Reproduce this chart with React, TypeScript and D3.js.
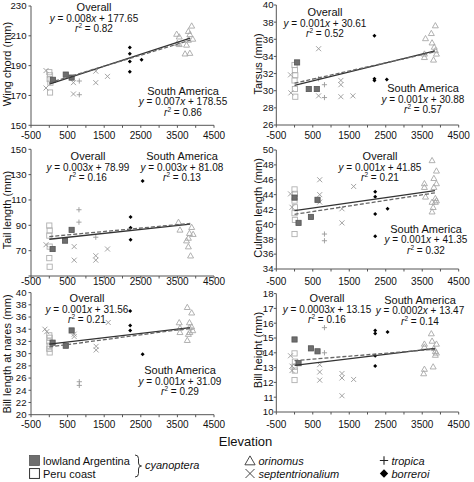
import React from 'react';
import * as d3 from 'd3';

type G = 'LA' | 'PC' | 'OR' | 'SE' | 'TR' | 'BO';
type Pt = [G, number, number];

const elevationLabels = [-500, 500, 1500, 2500, 3500, 4500];
const elevationTicks = [-500, 0, 500, 1000, 1500, 2000, 2500, 3000, 3500, 4000, 4500];

const wingPoints: Pt[] = [
  ['PC', 0, 185.6], ['PC', 20, 183.5], ['PC', 10, 181], ['PC', 30, 178.6], ['PC', 20, 172],
  ['LA', 100, 180.5], ['LA', 450, 184], ['LA', 610, 182],
  ['SE', -90, 186.7], ['SE', -90, 175], ['SE', 660, 178.6], ['SE', 660, 171], ['SE', 1270, 186.3], ['SE', 1270, 178.6], ['SE', 1590, 182.8],
  ['TR', 820, 179.7], ['TR', 820, 170.5],
  ['BO', 2200, 202.1], ['BO', 2200, 197.9], ['BO', 2200, 192.7], ['BO', 2200, 185.9], ['BO', 2520, 194],
  ['OR', 3890, 216.7], ['OR', 3800, 213.1], ['OR', 3840, 211], ['OR', 3480, 211.2], ['OR', 3550, 209.4], ['OR', 3800, 207.2],
  ['OR', 3550, 204.3], ['OR', 3750, 203.9], ['OR', 3710, 198], ['OR', 3840, 198.4], ['OR', 3920, 207.9], ['OR', 3500, 205],
];
const tarsusPoints: Pt[] = [
  ['PC', 0, 33.0], ['PC', 10, 32.4], ['PC', 20, 31.8], ['PC', 0, 31.2], ['PC', 10, 30.2], ['PC', 20, 29.3],
  ['LA', 70, 33.3], ['LA', 390, 30.2], ['LA', 610, 30.2],
  ['SE', -110, 31.85], ['SE', -100, 29.75], ['SE', 660, 34.9], ['SE', 660, 29.4], ['SE', 1270, 31.2], ['SE', 1270, 30.7], ['SE', 1270, 29.3], ['SE', 1600, 29.4],
  ['TR', 660, 31.4], ['TR', 820, 30.7], ['TR', 820, 29.2],
  ['BO', 2190, 36.4], ['BO', 2190, 31.4], ['BO', 2190, 31.2], ['BO', 2530, 31.3],
  ['OR', 3860, 37.6], ['OR', 3750, 36.7], ['OR', 3590, 36.1], ['OR', 3770, 35.6], ['OR', 3830, 35.1], ['OR', 3890, 34.3],
  ['OR', 3560, 34.3], ['OR', 3560, 33.9], ['OR', 3810, 33.6], ['OR', 3860, 34.7],
];
const tailPoints: Pt[] = [
  ['PC', 0, 89.8], ['PC', 10, 85.9], ['PC', 0, 81.9], ['PC', 10, 73.2], ['PC', 0, 64.1], ['PC', 10, 57.3],
  ['LA', 90, 71.3], ['LA', 430, 77.9], ['LA', 610, 86.4],
  ['SE', -90, 74.7], ['SE', 680, 73.2], ['SE', 680, 62.5], ['SE', 1270, 66], ['SE', 1270, 62.5], ['SE', 1590, 71.3],
  ['TR', 810, 102.3], ['TR', 810, 92.5], ['TR', 1270, 80.6],
  ['BO', 2220, 96.5], ['BO', 2220, 88], ['BO', 2220, 78.7], ['BO', 2550, 125],
  ['OR', 3530, 92.5], ['OR', 3570, 86.4], ['OR', 3800, 80], ['OR', 3890, 88.5], ['OR', 3830, 83.8],
  ['OR', 3750, 77.9], ['OR', 3800, 73.2], ['OR', 3860, 66], ['OR', 3930, 83],
];
const culmenPoints: Pt[] = [
  ['PC', 0, 44.7], ['PC', 10, 44.1], ['PC', 0, 43.2], ['PC', 10, 42.3], ['PC', 0, 41.5], ['PC', 10, 40.6], ['PC', 0, 38.7],
  ['LA', 0, 43.6], ['LA', 110, 40.2], ['LA', 450, 41], ['LA', 630, 43.3],
  ['SE', -110, 44.1], ['SE', -70, 42.3], ['SE', 690, 46], ['SE', 690, 44], ['SE', 690, 43], ['SE', 1300, 42.1], ['SE', 1300, 40.2], ['SE', 1620, 45.1],
  ['TR', 820, 38.7], ['TR', 820, 37.8],
  ['BO', 2210, 44.4], ['BO', 2210, 43.7], ['BO', 2210, 41.4], ['BO', 2210, 38.4], ['BO', 2550, 42.1],
  ['OR', 3770, 48.6], ['OR', 3890, 47.2], ['OR', 3820, 46.2], ['OR', 3890, 45.5], ['OR', 3560, 45.5], ['OR', 3560, 45],
  ['OR', 3590, 43.7], ['OR', 3820, 45], ['OR', 3860, 43.5], ['OR', 3860, 43], ['OR', 3770, 43], ['OR', 3800, 42.3],
  ['OR', 3770, 41.7], ['OR', 3890, 43.2],
];
const naresPoints: Pt[] = [
  ['PC', 0, 33], ['PC', 10, 32.6], ['PC', 0, 32], ['PC', 10, 31.3], ['PC', 0, 30.8], ['PC', 10, 30.2],
  ['LA', 90, 31.8], ['LA', 450, 31.3], ['LA', 610, 33.8],
  ['SE', -120, 34], ['SE', -70, 33.6], ['SE', 680, 33.2], ['SE', 680, 32.8], ['SE', 1280, 31.2], ['SE', 1280, 30.6], ['SE', 1610, 35.1],
  ['TR', 820, 25.4], ['TR', 820, 24.8],
  ['BO', 2210, 37], ['BO', 2210, 34.6], ['BO', 2210, 33.8], ['BO', 2550, 29.9],
  ['OR', 3770, 37.6], ['OR', 3890, 36.7], ['OR', 3550, 35.1], ['OR', 3570, 34.2], ['OR', 3570, 33.5], ['OR', 3830, 35.1],
  ['OR', 3830, 34.3], ['OR', 3770, 32.2], ['OR', 3840, 33.5], ['OR', 3890, 34.4], ['OR', 3920, 33.8], ['OR', 3800, 33.2],
];
const heightPoints: Pt[] = [
  ['PC', 0, 13.96], ['PC', 10, 13.4], ['PC', 0, 13.06], ['PC', 10, 12.8], ['PC', 0, 12.16],
  ['LA', 0, 14.9], ['LA', 110, 13.3], ['LA', 450, 14.3], ['LA', 630, 14.1],
  ['SE', -110, 13.8], ['SE', -70, 13.1], ['SE', -70, 12.8], ['SE', 690, 13.2], ['SE', 690, 12.7], ['SE', 690, 12.15],
  ['SE', 1300, 12.6], ['SE', 1300, 12.3], ['SE', 1300, 11.1], ['SE', 1620, 12.2],
  ['TR', 820, 15.7], ['TR', 820, 14],
  ['BO', 2210, 15.5], ['BO', 2210, 15.3], ['BO', 2550, 15.4], ['BO', 2210, 13.8], ['BO', 2210, 13.1],
  ['OR', 3750, 15.3], ['OR', 3770, 14.8], ['OR', 3560, 14.6], ['OR', 3560, 14.4], ['OR', 3890, 14.6], ['OR', 3860, 14.1],
  ['OR', 3820, 14.3], ['OR', 3860, 13.85], ['OR', 3800, 13.06], ['OR', 3560, 12.9], ['OR', 3540, 12.6], ['OR', 3890, 14],
];

// [slope, intercept] : overall (solid), South America (dashed)
const wingFits = [[0.008, 177.65], [0.0074, 178.55]];
const tarsusFits = [[0.00105, 30.61], [0.00095, 30.88]];
const tailFits = [[0.0031, 78.99], [0.0027, 81.08]];
const culmenFits = [[0.0007, 41.85], [0.00075, 41.35]];
const naresFits = [[0.0007, 31.56], [0.0008, 31.09]];
const heightFits = [[0.0003, 13.15], [0.0002, 13.47]];
const fitRange = [0, 3850];

// [slope label, intercept label, r2 label]
const wingEqs = [['0.008', '177.65', '0.82'], ['0.007', '178.55', '0.86']];
const tarsusEqs = [['0.001', '30.61', '0.52'], ['0.001', '30.88', '0.57']];
const tailEqs = [['0.003', '78.99', '0.16'], ['0.003', '81.08', '0.13']];
const culmenEqs = [['0.001', '41.85', '0.21'], ['0.001', '41.35', '0.32']];
const naresEqs = [['0.001', '31.56', '0.21'], ['0.001', '31.09', '0.29']];
const heightEqs = [['0.0003', '13.15', '0.16'], ['0.0002', '13.47', '0.14']];

const titles = ['Wing chord (mm)', 'Tarsus (mm)', 'Tail length (mm)', 'Culmen length (mm)', 'Bill length at nares (mm)', 'Bill height (mm)'];

const FONT = '"Liberation Sans", Arial, Helvetica, sans-serif';
const L = [31, 214];
const R = [276.3, 458.7];

const panels = [
  { title: titles[0], pts: wingPoints, fits: wingFits, eqs: wingEqs, dom: [150, 230], step: 20, skip: [] as number[], xr: L, yr: [125.3, 6], tx: 7.5, ty: 64, lab: 139, ov: [94, 11], sa: [183, 94.5] },
  { title: titles[1], pts: tarsusPoints, fits: tarsusFits, eqs: tarsusEqs, dom: [26, 40], step: 2, skip: [], xr: R, yr: [125, 5], tx: 258.5, ty: 64, lab: 139, ov: [325, 16], sa: [423, 92] },
  { title: titles[2], pts: tailPoints, fits: tailFits, eqs: tailEqs, dom: [50, 150], step: 20, skip: [50], xr: L, yr: [276, 149.3], tx: 7.5, ty: 210, lab: 284.5, ov: [88, 160], sa: [182, 160] },
  { title: titles[3], pts: culmenPoints, fits: culmenFits, eqs: culmenEqs, dom: [34, 50], step: 2, skip: [], xr: R, yr: [269, 150], tx: 258.5, ty: 208, lab: 284.5, ov: [380, 160], sa: [426, 232.5] },
  { title: titles[4], pts: naresPoints, fits: naresFits, eqs: naresEqs, dom: [20, 40], step: 2, skip: [], xr: L, yr: [414.7, 292.6], tx: 7, ty: 354, lab: 428, ov: [87, 302], sa: [180, 374] },
  { title: titles[5], pts: heightPoints, fits: heightFits, eqs: heightEqs, dom: [10, 18], step: 1, skip: [], xr: R, yr: [412, 293.6], tx: 258.5, ty: 350, lab: 428, ov: [327, 302], sa: [420, 303.5] },
];

function Marker({ g, x, y, s = 1, legend = false }: { g: G; x: number; y: number; s?: number; legend?: boolean }) {
  const light = legend ? '#333' : '#a8a8a8';
  if (g === 'LA') {
    const h = 2.6 * s;
    return <rect x={x - h} y={y - h} width={2 * h} height={2 * h} fill="#6e6e6e" stroke="#555" strokeWidth={0.8} />;
  }
  if (g === 'PC') {
    const h = 2.6 * s;
    return <rect x={x - h} y={y - h} width={2 * h} height={2 * h} fill="none" stroke={legend ? '#333' : '#b0b0b0'} strokeWidth={legend ? 1 : 0.9} />;
  }
  if (g === 'OR') {
    const h = 3 * s;
    return <path d={`M${x},${y - h}L${x + h},${y + h * 0.75}L${x - h},${y + h * 0.75}Z`} fill="none" stroke={light} strokeWidth={0.9} />;
  }
  if (g === 'SE') {
    const h = 2.5 * s;
    return <path d={`M${x - h},${y - h}L${x + h},${y + h}M${x - h},${y + h}L${x + h},${y - h}`} stroke={legend ? '#333' : '#999'} strokeWidth={0.9} />;
  }
  if (g === 'TR') {
    const h = 2.6 * s;
    return <path d={`M${x - h},${y}L${x + h},${y}M${x},${y - h}L${x},${y + h}`} stroke={legend ? '#222' : '#999'} strokeWidth={legend ? 1.1 : 0.9} />;
  }
  const h = 2 * s;
  return <path d={`M${x},${y - h}L${x + h},${y}L${x},${y + h}L${x - h},${y}Z`} fill="#000" />;
}

function EqBlock({ cx, y, name, eq }: { cx: number; y: number; name: string; eq: string[] }) {
  return (
    <g fontFamily={FONT} textAnchor="middle" fill="#111">
      <text x={cx} y={y} fontSize={11}>{name}</text>
      <text x={cx} y={y + 10.5} fontSize={10}>
        <tspan fontStyle="italic">y</tspan>{` = ${eq[0]}`}<tspan fontStyle="italic">x</tspan>{` + ${eq[1]}`}
      </text>
      <text x={cx} y={y + 21} fontSize={10}>
        <tspan fontStyle="italic">r</tspan><tspan fontSize={6.5} dy={-4}>2</tspan><tspan dy={4}>{` = ${eq[2]}`}</tspan>
      </text>
    </g>
  );
}

function Panel({ p }: { p: (typeof panels)[number] }) {
  const x = d3.scaleLinear().domain([-500, 4500]).range(p.xr);
  const y = d3.scaleLinear().domain(p.dom).range(p.yr);
  const yTicks = d3.range(p.dom[0], p.dom[1] + p.step / 2, p.step);
  const order: G[] = ['PC', 'SE', 'TR', 'OR', 'LA', 'BO'];
  const sorted = [...p.pts].sort((a, b) => order.indexOf(a[0]) - order.indexOf(b[0]));
  const fitPath = (f: number[]) =>
    d3.line<number>().x((e) => x(e)).y((e) => y(f[1] + f[0] * e))(fitRange) || '';
  const gap = p.xr === L ? 4.5 : 2.8;
  return (
    <g>
      <line x1={p.xr[0]} x2={p.xr[0]} y1={p.yr[0]} y2={p.yr[1]} stroke="#555" strokeWidth={1} />
      <line x1={p.xr[0]} x2={p.xr[1]} y1={p.yr[0]} y2={p.yr[0]} stroke="#555" strokeWidth={1} />
      {yTicks.map((t) => (
        <g key={t}>
          <line x1={p.xr[0] - 2.5} x2={p.xr[0]} y1={y(t)} y2={y(t)} stroke="#555" />
          {p.skip.includes(t) ? null : (
            <text x={p.xr[0] - gap} y={y(t)} dy="0.35em" textAnchor="end" fontSize={9.6} fontFamily={FONT} fill="#111">{t}</text>
          )}
        </g>
      ))}
      {elevationTicks.map((t) => (
        <line key={t} x1={x(t)} x2={x(t)} y1={p.yr[0]} y2={p.yr[0] + 2.5} stroke="#555" />
      ))}
      {elevationLabels.map((t) => (
        <text key={t} x={x(t)} y={p.lab} textAnchor="middle" fontSize={10} fontFamily={FONT} fill="#111">{t}</text>
      ))}
      <text transform={`translate(${p.tx},${p.ty}) rotate(-90)`} textAnchor="middle" dy="0.35em" fontSize={11} fontFamily={FONT} fill="#111">{p.title}</text>
      {sorted.map((d, i) => (
        <Marker key={i} g={d[0]} x={x(d[1])} y={y(d[2])} />
      ))}
      <path d={fitPath(p.fits[0])} fill="none" stroke="#333" strokeWidth={1.3} />
      <path d={fitPath(p.fits[1])} fill="none" stroke="#666" strokeWidth={1.3} strokeDasharray="4,2" />
      <EqBlock cx={p.ov[0]} y={p.ov[1]} name="Overall" eq={p.eqs[0]} />
      <EqBlock cx={p.sa[0]} y={p.sa[1]} name="South America" eq={p.eqs[1]} />
    </g>
  );
}

export default function App() {
  return (
    <svg width={474} height={482} style={{ position: 'absolute', left: 0, top: 0, background: '#fff' }}>
      <rect width={474} height={482} fill="#fff" />
      {panels.map((p, i) => (
        <Panel key={i} p={p} />
      ))}
      <text x={245.5} y={446} textAnchor="middle" fontSize={13} fontFamily={FONT} fill="#111">Elevation</text>
      <g fontFamily={FONT} fontSize={11} fill="#111">
        <Marker g="LA" x={34.5} y={460.5} s={1.9} legend />
        <text x={43} y={464.5}>lowland Argentina</text>
        <Marker g="PC" x={34.5} y={473.5} s={1.9} legend />
        <text x={43} y={477.5}>Peru coast</text>
        <path d="M135,455 q3.5,0 3.5,3.5 v4.5 q0,3 3,3 q-3,0 -3,3 v4.5 q0,3.5 -3.5,3.5" fill="none" stroke="#333" strokeWidth={1} />
        <text x={145} y={469} fontStyle="italic">cyanoptera</text>
        <Marker g="OR" x={250} y={461} s={1.7} legend />
        <text x={258.5} y={464.5} fontStyle="italic">orinomus</text>
        <Marker g="SE" x={250} y={473.5} s={1.8} legend />
        <text x={258.5} y={477.5} fontStyle="italic">septentrionalium</text>
        <Marker g="TR" x={384} y={460.5} s={1.6} legend />
        <text x={391.5} y={464.5} fontStyle="italic">tropica</text>
        <Marker g="BO" x={384} y={473.5} s={2.1} legend />
        <text x={391.5} y={477.5} fontStyle="italic">borreroi</text>
      </g>
    </svg>
  );
}
